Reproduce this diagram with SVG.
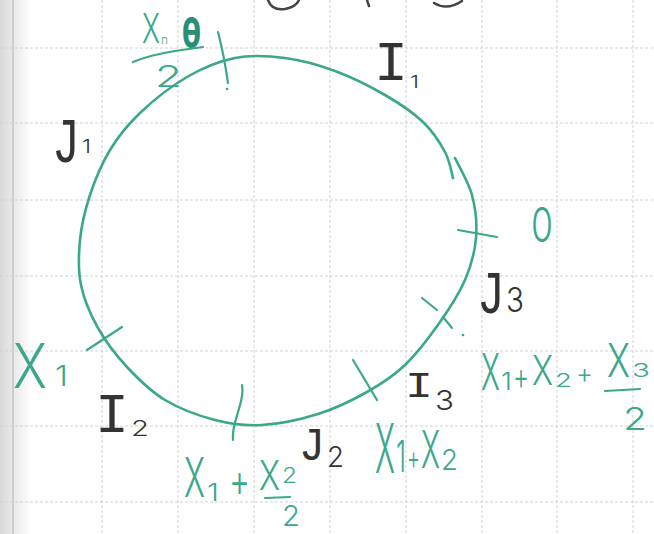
<svg xmlns="http://www.w3.org/2000/svg" width="654" height="534" viewBox="0 0 654 534">
<defs>
<linearGradient id="margin" x1="0" y1="0" x2="1" y2="0">
<stop offset="0" stop-color="#d9d9d9"/>
<stop offset="1" stop-color="#ffffff"/>
</linearGradient>
</defs>
<style>
.grid{stroke:#d2d2d2;stroke-width:1;stroke-dasharray:3 2;fill:none}
.pen{stroke:#3ba78b;stroke-width:2.6;fill:none;stroke-linecap:round;stroke-linejoin:round}
.tick{stroke:#3ba78b;stroke-width:2.2;fill:none;stroke-linecap:round}
.g{fill:#3ba78b;font-family:Inter,"Liberation Sans",Arial,sans-serif;font-weight:300}
.k{fill:#333333;font-family:Inter,"Liberation Sans",Arial,sans-serif;font-weight:300}
.m{fill:#333333;font-family:"Liberation Mono","DejaVu Sans Mono",monospace}
.ink{stroke:#444444;stroke-width:2.5;fill:none;stroke-linecap:round}
</style>
<rect width="654" height="534" fill="#ffffff"/>
<g id="paper">
<rect x="0" y="0" width="32" height="534" fill="url(#margin)"/>
<line x1="13" y1="0" x2="13" y2="534" stroke="#c4c4c4" stroke-width="1.5"/>
<path class="grid" d="M102,0V534M178,0V534M254,0V534M330,0V534M406,0V534M482,0V534M557,0V534M633,0V534M0,48H654M0,123H654M0,200H654M0,276H654M0,351H654M0,426H654M0,502H654"/>
<path class="ink" d="M268,0 Q272,11 285,9 Q296,7 299,0 M367,0 L369,6 M434,3 Q447,11 462,1"/>
</g>
<g id="circle">
<path class="pen" d="M455,158 C457.8,164.2 468.5,181.7 472,195 C475.5,208.3 477.2,223.8 476,238 C474.8,252.2 471,266 465,280 C459,294 450,307.8 440,322 C430,336.2 417.2,353.3 405,365 C392.8,376.7 381.5,383.8 367,392 C352.5,400.2 335.5,408.5 318,414 C300.5,419.5 279.2,424 262,425 C244.8,426 231.2,424.2 215,420 C198.8,415.8 179.7,408.8 165,400 C150.3,391.2 138.2,379 127,367 C115.8,355 105.7,341.7 98,328 C90.3,314.3 84,299.7 81,285 C78,270.3 78.5,255 80,240 C81.5,225 85,210 90,195 C95,180 101.7,163.7 110,150 C118.3,136.3 127.2,125.2 140,113 C152.8,100.8 171.2,86.2 187,77 C202.8,67.8 218.7,61.2 235,58 C251.3,54.8 268.3,55.8 285,58 C301.7,60.2 318.3,64.8 335,71 C351.7,77.2 370.3,86.5 385,95 C399.7,103.5 413,112.5 423,122 C433,131.5 440,142.7 445,152 C450,161.3 451.7,173.7 453,178"/>
</g>
<g id="ticks">
<path class="tick" d="M218,32 Q224,55 228,83"/>
<circle cx="227" cy="89" r="1.3" fill="#3ba78b"/>
<path class="tick" d="M458,230 L497,237"/>
<path class="tick" d="M422,298 L437,310 M443,317 L452,328"/>
<circle cx="463" cy="335" r="1.3" fill="#3ba78b"/>
<path class="tick" d="M353,360 L377,400"/>
<path class="tick" d="M242,385 C244,395 240,405 238,412 C236,420 232,428 233,440"/>
<path class="tick" d="M87,350 L122,327"/>
</g>
<g id="label-xn-half">
<text class="g" font-size="27.3" textLength="18" lengthAdjust="spacingAndGlyphs" transform="translate(142,43) scale(1,1.51)">X</text>
<text class="g" font-size="12" textLength="7" lengthAdjust="spacingAndGlyphs" transform="translate(161,44)">n</text>
<text class="g" style="font-weight:800;fill:#2a8f75" font-size="31.7" textLength="19" lengthAdjust="spacingAndGlyphs" transform="translate(182,48) scale(1,1.32)">θ</text>
<path class="tick" d="M133,62 Q150,55 175,51 L203,47"/>
<text class="g" font-size="45" textLength="27" lengthAdjust="spacingAndGlyphs" transform="translate(155,87) scale(1,0.67)">2</text>
</g>
<g id="label-I1">
<text class="m" font-size="56" textLength="34" lengthAdjust="spacingAndGlyphs" transform="translate(374,80)">I</text>
<text class="k" font-size="17" textLength="9" lengthAdjust="spacingAndGlyphs" transform="translate(410,88)">1</text>
</g>
<g id="label-J1">
<text class="m" font-size="46.7" textLength="28" lengthAdjust="spacingAndGlyphs" transform="translate(52,162) scale(1,1.34)">J</text>
<text class="k" font-size="18" textLength="9" lengthAdjust="spacingAndGlyphs" transform="translate(82,153)">1</text>
</g>
<g id="label-0">
<text class="g" font-size="34" textLength="22" lengthAdjust="spacingAndGlyphs" transform="translate(531,242) scale(1,1.42)">0</text>
</g>
<g id="label-J3">
<text class="m" font-size="46.7" textLength="28" lengthAdjust="spacingAndGlyphs" transform="translate(477,313) scale(1,1.31)">J</text>
<text class="k" font-size="29" textLength="18" lengthAdjust="spacingAndGlyphs" transform="translate(506,312) scale(1,1.19)">3</text>
</g>
<g id="label-x1x2x3">
<text class="g" font-size="28.8" textLength="19" lengthAdjust="spacingAndGlyphs" transform="translate(481,390) scale(1,1.77)">X</text>
<text class="g" font-size="24" textLength="11" lengthAdjust="spacingAndGlyphs" transform="translate(501,390)">1</text>
<text class="g" font-size="25.8" textLength="16" lengthAdjust="spacingAndGlyphs" transform="translate(513,390) scale(1,1.5)">+</text>
<text class="g" font-size="31.8" textLength="21" lengthAdjust="spacingAndGlyphs" transform="translate(532,385) scale(1,1.3)">X</text>
<text class="g" font-size="28.3" textLength="17" lengthAdjust="spacingAndGlyphs" transform="translate(555,387) scale(1,0.68)">2</text>
<text class="g" font-size="27.4" textLength="17" lengthAdjust="spacingAndGlyphs" transform="translate(576,382.5)">+</text>
<text class="g" font-size="34.8" textLength="23" lengthAdjust="spacingAndGlyphs" transform="translate(607,377) scale(1,1.34)">X</text>
<text class="g" font-size="29" textLength="18" lengthAdjust="spacingAndGlyphs" transform="translate(632,377) scale(1,0.66)">3</text>
<path class="tick" d="M605,391 L640,389"/>
<text class="g" font-size="40" textLength="24" lengthAdjust="spacingAndGlyphs" transform="translate(623,430) scale(1,0.79)">2</text>
</g>
<g id="label-X1">
<text class="g" font-size="51.5" textLength="34" lengthAdjust="spacingAndGlyphs" transform="translate(13,388) scale(1,1.2)">X</text>
<text class="g" font-size="28" textLength="13" lengthAdjust="spacingAndGlyphs" transform="translate(55,386)">1</text>
</g>
<g id="label-I2">
<text class="m" font-size="56" textLength="34" lengthAdjust="spacingAndGlyphs" transform="translate(95,432)">I</text>
<text class="k" font-size="30" textLength="18" lengthAdjust="spacingAndGlyphs" transform="translate(131,436) scale(1,0.73)">2</text>
</g>
<g id="label-I3">
<text class="m" font-size="46.7" textLength="28" lengthAdjust="spacingAndGlyphs" transform="translate(405,397) scale(1,0.8)">I</text>
<text class="k" font-size="30.6" textLength="19" lengthAdjust="spacingAndGlyphs" transform="translate(435,410) scale(1,0.9)">3</text>
</g>
<g id="label-J2">
<text class="m" font-size="43.3" textLength="26" lengthAdjust="spacingAndGlyphs" transform="translate(299,460) scale(1,1.06)">J</text>
<text class="k" font-size="28.3" textLength="17" lengthAdjust="spacingAndGlyphs" transform="translate(327,467)">2</text>
</g>
<g id="label-x1x2">
<text class="g" font-size="30.3" textLength="20" lengthAdjust="spacingAndGlyphs" transform="translate(375,473) scale(1,2.27)">X</text>
<text class="g" font-size="22" textLength="10" lengthAdjust="spacingAndGlyphs" transform="translate(396,472) scale(1,2)">1</text>
<text class="g" font-size="21" textLength="13" lengthAdjust="spacingAndGlyphs" transform="translate(407,469.6) scale(1,1.6)">+</text>
<text class="g" font-size="28.8" textLength="19" lengthAdjust="spacingAndGlyphs" transform="translate(421,468) scale(1,1.81)">X</text>
<text class="g" font-size="28.3" textLength="17" lengthAdjust="spacingAndGlyphs" transform="translate(441,470)">2</text>
</g>
<g id="label-x1-x2half">
<text class="g" font-size="31.8" textLength="21" lengthAdjust="spacingAndGlyphs" transform="translate(184,497) scale(1,1.73)">X</text>
<text class="g" font-size="26.7" textLength="12" lengthAdjust="spacingAndGlyphs" transform="translate(207,501) scale(1,0.88)">1</text>
<text class="g" font-size="33.9" textLength="21" lengthAdjust="spacingAndGlyphs" transform="translate(229,496.7) scale(1,1.36)">+</text>
<text class="g" font-size="31.8" textLength="21" lengthAdjust="spacingAndGlyphs" transform="translate(259,490) scale(1,1.3)">X</text>
<text class="g" font-size="25" textLength="15" lengthAdjust="spacingAndGlyphs" transform="translate(282,483) scale(1,0.88)">2</text>
<path class="tick" d="M265,498 L290,497"/>
<text class="g" font-size="29" textLength="18" lengthAdjust="spacingAndGlyphs" transform="translate(282,526)">2</text>
</g>
</svg>
